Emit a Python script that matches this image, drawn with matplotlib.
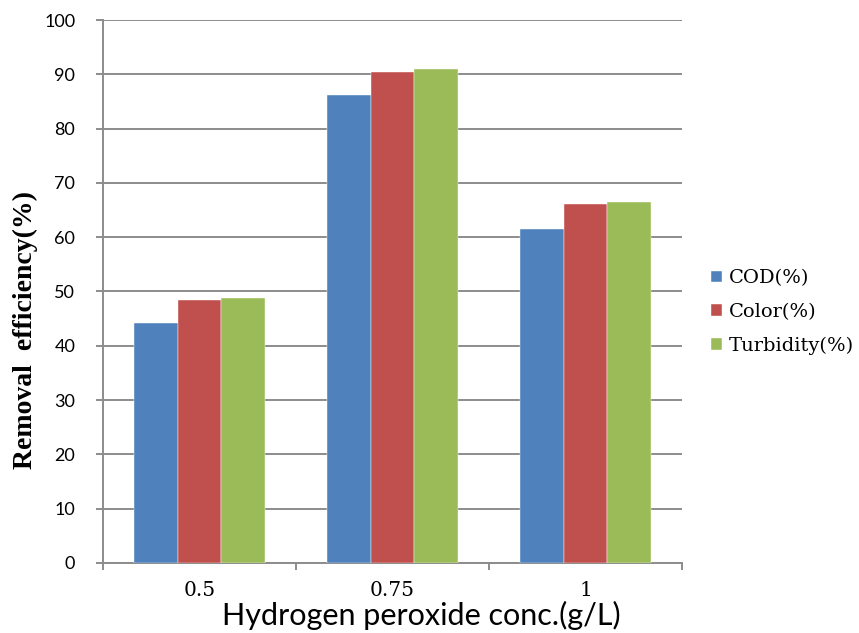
import numpy as np
import matplotlib
matplotlib.use('Agg')
import matplotlib.pyplot as plt

concs = ['0.5', '0.75', '1']
series = ['COD(%)', 'Color(%)', 'Turbidity(%)']
cod = [44.2, 86.2, 61.6]
color = [48.5, 90.5, 66.1]
turbidity = [48.8, 90.9, 66.4]
colors = ['#4F81BD', '#C0504D', '#9BBB59']

GRID = '#8c8c8c'

fig = plt.figure(figsize=(8.59, 6.33), dpi=100)
ax = fig.add_axes([0.12, 0.1106, 0.674, 0.8578])

x = np.arange(len(concs))
w = 0.226
for i, (vals, name) in enumerate(zip([cod, color, turbidity], series)):
    ax.bar(x + (i - 1) * w, vals, w, color=colors[i], label=name, zorder=3,
           edgecolor='white', linewidth=0.3)

ax.set_xlim(-0.5, len(concs) - 0.5)
ax.set_ylim(0, 100)
ax.set_yticks(np.arange(0, 101, 10))
ax.yaxis.grid(True, color=GRID, lw=1.4, zorder=0)
ax.set_axisbelow(True)

# category boundary ticks, labels in the middle
ax.set_xticks(np.arange(-0.5, len(concs)), minor=False)
ax.set_xticklabels([])
ax.set_xticks(x, minor=True)
ax.set_xticklabels(concs, minor=True, family='DejaVu Serif', fontsize=14.5)
ax.tick_params(axis='x', which='minor', length=0, pad=13)
ax.tick_params(axis='x', which='major', length=5, width=1.4, color=GRID)
ax.tick_params(axis='y', length=5, width=1.4, color=GRID, pad=15)
for lab in ax.get_yticklabels():
    lab.set_family('Lato')
    lab.set_fontsize(13)

for s in ['top', 'right']:
    ax.spines[s].set_visible(False)
for s in ['left', 'bottom']:
    ax.spines[s].set_color(GRID)
    ax.spines[s].set_linewidth(1.4)

fig.text(0.49, 0.028, 'Hydrogen peroxide conc.(g/L)', family='Lato', fontsize=22,
         ha='center', va='center')
ax.set_ylabel('Removal  efficiency(%)', family='Liberation Serif', fontweight='bold',
              fontsize=20)
ax.yaxis.set_label_coords(-0.112, 0.43)

ax.legend(loc='center left', bbox_to_anchor=(1.02, 0.462), frameon=False,
          prop={'family': 'DejaVu Serif', 'size': 14},
          handlelength=0.55, handleheight=0.55, handletextpad=0.35, labelspacing=0.8)

fig.savefig('out.png', dpi=100)
